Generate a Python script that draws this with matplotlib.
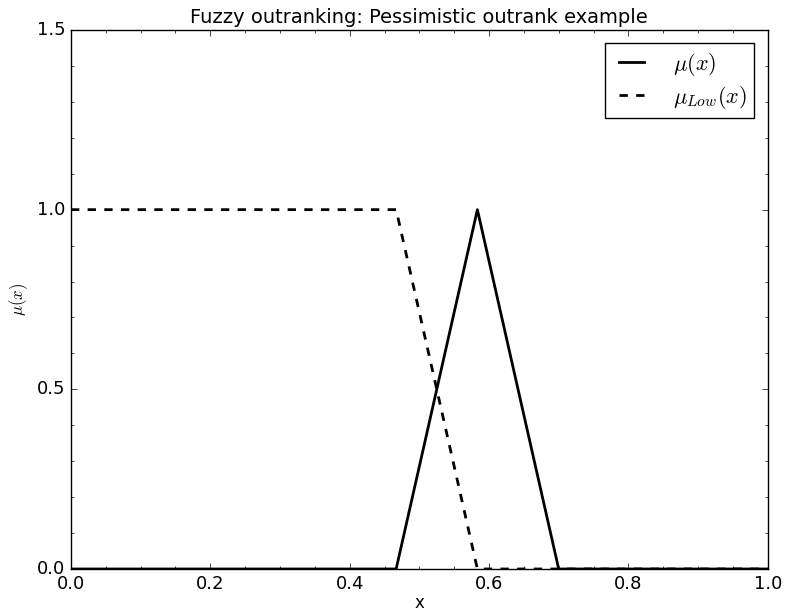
import matplotlib
matplotlib.use("Agg")
import matplotlib.pyplot as plt
from matplotlib.ticker import MultipleLocator

plt.style.use('classic')
plt.rcParams['mathtext.fontset'] = 'cm'

# membership functions (piecewise linear)
x_mu = [0.0, 0.4667, 0.5833, 0.7, 1.0]
y_mu = [0.0, 0.0, 1.0, 0.0, 0.0]
x_low = [0.0, 0.4667, 0.5833, 1.0]
y_low = [1.0, 1.0, 0.0, 0.0]

fig = plt.figure(figsize=(7.85, 6.13), dpi=100, facecolor='white')
ax = fig.add_axes([0.0904, 0.0718, 0.8876, 0.8793])
ax.plot(x_mu, y_mu, color='black', lw=2, ls='-', label=r'$\mu(x)$')
ax.plot(x_low, y_low, color='black', lw=2, ls='--', label=r'$\mu_{Low}(x)$')

ax.set_xlim(0, 1)
ax.set_ylim(0, 1.5)
ax.set_xticks([0.0, 0.2, 0.4, 0.6, 0.8, 1.0])
ax.set_yticks([0.0, 0.5, 1.0, 1.5])
ax.xaxis.set_minor_locator(MultipleLocator(0.05))
ax.yaxis.set_minor_locator(MultipleLocator(0.1))
ax.tick_params(which='major', labelsize=13)
ax.set_title('Fuzzy outranking: Pessimistic outrank example', fontsize=14)
ax.set_xlabel('x', fontsize=12, labelpad=1)
ax.set_ylabel(r'$\mu(x)$', fontsize=12)
leg = ax.legend(loc='upper right', fontsize=16, fancybox=False, frameon=True,
                handlelength=1.7, handletextpad=1.0, borderpad=0.35,
                labelspacing=0.25, borderaxespad=0.6)
leg.get_frame().set_edgecolor('black')

fig.savefig('out.png', dpi=100, facecolor='white')
